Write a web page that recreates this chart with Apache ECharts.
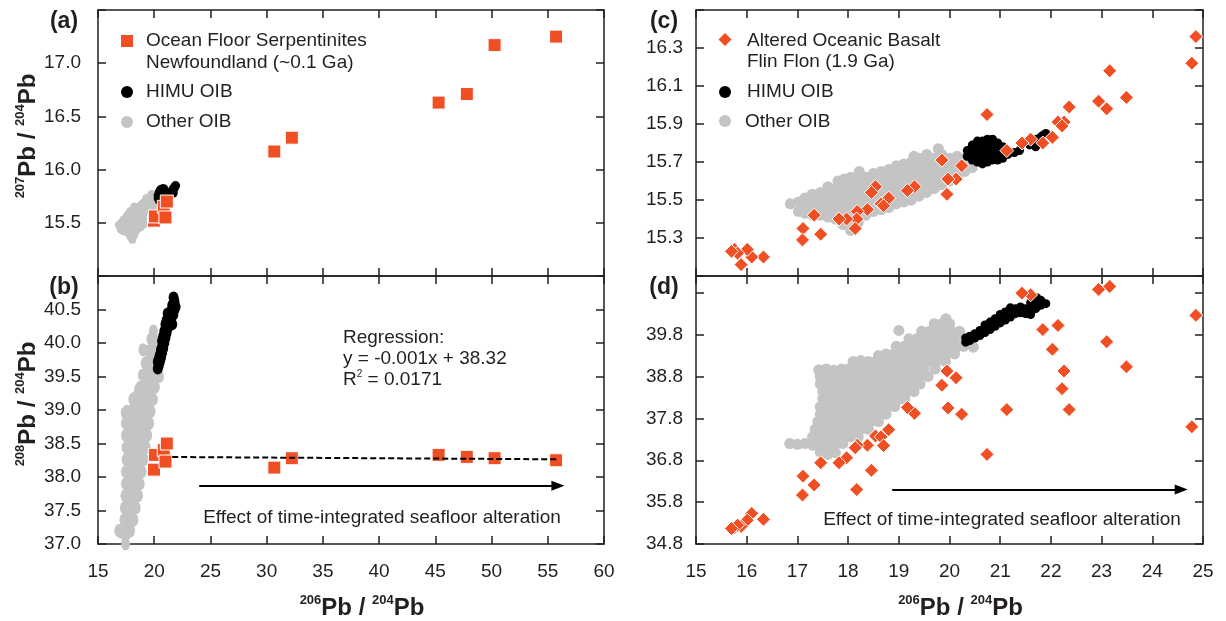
<!DOCTYPE html>
<html><head><meta charset="utf-8">
<script src="https://cdn.jsdelivr.net/npm/echarts@6/dist/echarts.min.js"></script>
<style>html,body{margin:0;padding:0;background:#fff}#c{width:1226px;height:621px}</style>
</head><body><div id="c"></div>
<script>
// ---------- DATA ----------
// Ocean floor serpentinites, Newfoundland (~0.1 Ga)
const serpX   = [19.98, 20.06, 20.85, 21.00, 21.12, 30.68, 32.24, 45.29, 47.80, 50.27, 55.74];
const serp207 = [15.52, 15.56, 15.65, 15.55, 15.70, 16.17, 16.30, 16.63, 16.71, 17.17, 17.25];
const serp208 = [38.11, 38.33, 38.40, 38.23, 38.50, 38.14, 38.28, 38.33, 38.30, 38.28, 38.25];

// Altered oceanic basalt, Flin Flon (1.9 Ga)
const flinX   = [24.86, 24.78, 23.16, 23.49, 22.94, 23.10, 22.36, 22.26, 22.14, 22.22, 20.74, 22.03, 21.84, 21.60, 21.43, 21.13, 20.24, 19.85, 20.13, 19.97, 19.95, 19.31, 19.17, 18.54, 18.46, 18.80, 18.65, 18.70, 18.38, 18.18, 18.17, 17.97, 17.82, 18.14, 17.33, 17.46, 17.11, 17.10, 16.33, 16.10, 16.01, 15.89, 15.76, 15.82, 15.70];
const flin207 = [16.36, 16.22, 16.18, 16.04, 16.02, 15.98, 15.99, 15.91, 15.91, 15.89, 15.95, 15.83, 15.80, 15.82, 15.80, 15.76, 15.68, 15.71, 15.61, 15.61, 15.53, 15.57, 15.55, 15.57, 15.54, 15.51, 15.48, 15.47, 15.45, 15.44, 15.40, 15.40, 15.40, 15.35, 15.42, 15.32, 15.35, 15.29, 15.20, 15.20, 15.24, 15.16, 15.24, 15.22, 15.23];
const flin208 = [40.26, 37.60, 40.95, 39.03, 40.88, 39.63, 38.01, 38.93, 40.02, 38.51, 36.94, 39.45, 39.92, 40.75, 40.79, 38.01, 37.90, 38.59, 38.77, 38.05, 38.93, 37.92, 38.06, 37.38, 36.56, 37.53, 37.36, 37.15, 37.16, 37.16, 36.10, 36.86, 36.74, 37.10, 36.21, 36.74, 36.42, 35.97, 35.39, 35.53, 35.37, 35.22, 35.20, 35.25, 35.17];

// HIMU OIB  [206Pb/204Pb, 207Pb/204Pb]
const himu207 = [
[20.35,15.73],[20.35,15.76],
[20.45,15.71],[20.45,15.74],[20.45,15.77],[20.45,15.79],
[20.55,15.70],[20.55,15.73],[20.55,15.76],[20.55,15.79],[20.55,15.81],
[20.65,15.69],[20.65,15.72],[20.65,15.75],[20.65,15.78],[20.65,15.81],
[20.75,15.70],[20.75,15.73],[20.75,15.76],[20.75,15.79],[20.75,15.82],
[20.85,15.71],[20.85,15.74],[20.85,15.77],[20.85,15.80],[20.85,15.82],
[20.95,15.71],[20.95,15.74],[20.95,15.77],[20.95,15.80],
[21.05,15.72],[21.05,15.75],[21.05,15.78],
[21.15,15.74],[21.15,15.76],[21.28,15.75],[21.38,15.76],
[21.58,15.79],[21.62,15.81],[21.70,15.78],[21.72,15.82],[21.80,15.83],[21.84,15.84],[21.90,15.85]
];
// HIMU OIB  [206Pb/204Pb, 208Pb/204Pb]
const himu208 = [
[20.32,39.62],[20.32,39.72],[20.40,39.66],[20.40,39.76],[20.50,39.72],[20.50,39.82],[20.60,39.78],[20.60,39.90],
[20.70,39.85],[20.70,39.95],[20.70,40.03],[20.80,39.92],[20.80,40.02],[20.80,40.10],[20.90,40.00],[20.90,40.10],[20.90,40.18],
[21.00,40.08],[21.00,40.18],[21.00,40.28],[21.10,40.15],[21.10,40.25],[21.10,40.34],[21.20,40.22],[21.20,40.34],[21.20,40.44],
[21.30,40.30],[21.30,40.42],[21.40,40.32],[21.40,40.46],[21.50,40.30],[21.50,40.42],[21.60,40.28],[21.60,40.44],[21.60,40.56],
[21.70,40.42],[21.70,40.56],[21.72,40.68],[21.80,40.50],[21.80,40.62],[21.90,40.54]
];

// Other OIB  [206Pb/204Pb, 207Pb/204Pb]
const oib207 = [
[16.86,15.48],
[17.02,15.44],[17.02,15.49],
[17.15,15.43],[17.15,15.47],[17.15,15.51],
[17.30,15.42],[17.30,15.46],[17.30,15.50],[17.29,15.53],
[17.45,15.42],[17.45,15.46],[17.45,15.50],[17.45,15.54],
[17.60,15.41],[17.60,15.45],[17.60,15.49],[17.60,15.53],[17.60,15.57],
[17.75,15.40],[17.75,15.44],[17.75,15.48],[17.75,15.52],[17.75,15.56],[17.80,15.60],
[17.90,15.37],[17.90,15.41],[17.90,15.45],[17.90,15.49],[17.90,15.53],[17.90,15.57],[17.92,15.61],
[18.05,15.34],[18.05,15.38],[18.05,15.42],[18.05,15.46],[18.05,15.50],[18.05,15.54],[18.05,15.58],[18.05,15.62],
[18.20,15.38],[18.20,15.42],[18.20,15.46],[18.20,15.50],[18.20,15.54],[18.20,15.58],[18.20,15.62],[18.22,15.65],
[18.35,15.42],[18.35,15.46],[18.35,15.50],[18.35,15.54],[18.35,15.58],[18.35,15.62],
[18.50,15.44],[18.50,15.48],[18.50,15.52],[18.50,15.56],[18.50,15.60],[18.50,15.64],
[18.65,15.45],[18.65,15.49],[18.65,15.53],[18.65,15.57],[18.65,15.61],[18.65,15.65],
[18.80,15.46],[18.80,15.50],[18.80,15.54],[18.80,15.58],[18.80,15.62],[18.80,15.66],
[18.95,15.48],[18.95,15.52],[18.95,15.56],[18.95,15.60],[18.95,15.64],[18.95,15.68],
[19.10,15.49],[19.10,15.53],[19.10,15.57],[19.10,15.61],[19.10,15.65],[19.10,15.69],
[19.25,15.50],[19.25,15.54],[19.25,15.58],[19.25,15.62],[19.25,15.66],[19.25,15.70],[19.30,15.73],
[19.40,15.52],[19.40,15.56],[19.40,15.60],[19.40,15.64],[19.40,15.68],[19.40,15.72],
[19.55,15.54],[19.55,15.58],[19.55,15.62],[19.55,15.66],[19.55,15.70],[19.55,15.74],
[19.70,15.56],[19.70,15.60],[19.70,15.64],[19.70,15.68],[19.70,15.72],[19.78,15.77],
[19.85,15.58],[19.85,15.62],[19.85,15.66],[19.85,15.70],[19.85,15.74],
[20.00,15.60],[20.00,15.64],[20.00,15.68],[20.00,15.72],
[20.15,15.62],[20.15,15.66],[20.15,15.70],[20.15,15.73],
[20.30,15.65],[20.30,15.69],[20.30,15.72],
[20.45,15.67],[20.50,15.71]
];
// Other OIB  [206Pb/204Pb, 208Pb/204Pb]
const oib208 = [
[17.45,37.00],[17.60,36.94],[17.75,36.98],
[16.85,37.20],[17.00,37.18],[17.15,37.20],[17.30,37.16],[17.45,37.18],[17.60,37.16],[17.75,37.18],[17.90,37.20],
[17.30,37.36],[17.45,37.36],[17.60,37.36],[17.75,37.36],[17.90,37.36],[18.05,37.36],[18.20,37.36],
[17.35,37.54],[17.50,37.54],[17.65,37.54],[17.80,37.54],[17.95,37.54],[18.10,37.54],[18.25,37.54],[18.40,37.54],
[17.40,37.72],[17.55,37.72],[17.70,37.72],[17.85,37.72],[18.00,37.72],[18.15,37.72],[18.30,37.72],[18.45,37.72],[18.60,37.72],
[17.45,37.90],[17.60,37.90],[17.75,37.90],[17.90,37.90],[18.05,37.90],[18.20,37.90],[18.35,37.90],[18.50,37.90],[18.65,37.90],[18.75,37.90],
[17.45,38.08],[17.60,38.08],[17.75,38.08],[17.90,38.08],[18.05,38.08],[18.20,38.08],[18.35,38.08],[18.50,38.08],[18.65,38.08],[18.80,38.08],[18.92,38.08],
[17.50,38.26],[17.65,38.26],[17.80,38.26],[17.95,38.26],[18.10,38.26],[18.25,38.26],[18.40,38.26],[18.55,38.26],[18.70,38.26],[18.85,38.26],[19.00,38.26],[19.12,38.26],
[17.50,38.44],[17.65,38.44],[17.80,38.44],[17.95,38.44],[18.10,38.44],[18.25,38.44],[18.40,38.44],[18.55,38.44],[18.70,38.44],[18.85,38.44],[19.00,38.44],[19.15,38.44],[19.30,38.44],
[17.45,38.62],[17.60,38.62],[17.75,38.62],[17.90,38.62],[18.05,38.62],[18.20,38.62],[18.35,38.62],[18.50,38.62],[18.65,38.62],[18.80,38.62],[18.95,38.62],[19.10,38.62],[19.25,38.62],[19.42,38.62],
[17.45,38.80],[17.60,38.80],[17.75,38.80],[17.90,38.80],[18.05,38.80],[18.20,38.80],[18.35,38.80],[18.50,38.80],[18.65,38.80],[18.80,38.80],[18.95,38.80],[19.10,38.80],[19.25,38.80],[19.40,38.80],[19.58,38.80],
[17.42,38.96],[17.57,38.98],[17.72,38.95],[17.87,38.98],[18.00,38.98],[18.15,38.98],[18.30,38.98],[18.45,38.98],[18.60,38.98],[18.75,38.98],[18.90,38.98],[19.05,38.98],[19.20,38.98],[19.35,38.98],[19.50,38.98],[19.72,38.98],
[18.10,39.16],[18.25,39.18],[18.40,39.16],[18.55,39.16],[18.70,39.16],[18.85,39.16],[19.00,39.16],[19.15,39.16],[19.30,39.16],[19.45,39.16],[19.60,39.16],[19.75,39.16],[19.92,39.16],
[18.60,39.30],[18.75,39.34],[18.90,39.34],[19.05,39.34],[19.20,39.34],[19.35,39.34],[19.50,39.34],[19.65,39.34],[19.80,39.34],[19.95,39.34],[20.10,39.34],
[18.95,39.52],[19.10,39.52],[19.25,39.52],[19.40,39.52],[19.55,39.52],[19.70,39.52],[19.85,39.52],[20.00,39.52],[20.15,39.52],[20.28,39.52],[20.47,39.50],
[19.20,39.70],[19.35,39.70],[19.50,39.70],[19.65,39.70],[19.80,39.70],[19.95,39.70],[20.10,39.70],[20.30,39.70],
[19.00,39.90],[19.45,39.88],[19.60,39.88],[19.75,39.88],[19.90,39.88],[20.05,39.88],[20.20,39.88],
[19.70,40.06],[19.85,40.06],[20.00,40.06],
[19.93,40.18]
];

// Regression shown in panel (b)
const regSlope = -0.001, regIntercept = 38.32, regFrom = 21.6, regTo = 55.8;

// Tick labels
const labA  = [15.5, 16.0, 16.5, 17.0];
const labB  = [37.0, 37.5, 38.0, 38.5, 39.0, 39.5, 40.0, 40.5];
const labC  = [15.3, 15.5, 15.7, 15.9, 16.1, 16.3];
const labD  = [34.8, 35.8, 36.8, 37.8, 38.8, 39.8];
const labXL = [15, 20, 25, 30, 35, 40, 45, 50, 55, 60];
const labXR = [15, 16, 17, 18, 19, 20, 21, 22, 23, 24, 25];

// ---------- STYLE ----------
const FONT = '"Liberation Sans", Arial, sans-serif';
const INK = '#231f20';
const ORANGE = '#F04E23';
const GRAY = '#C4C4C4';
const BLACK = '#000000';

function inList(list, v){ return list.some(t => Math.abs(t - v) < 1e-6); }
function fmtY(list){ return v => inList(list, v) ? v.toFixed(1) : ''; }
function fmtX(list){ return v => inList(list, v) ? String(Math.round(v)) : ''; }

const axisLineStyle = {color: INK, width: 1.5};
function xAx(gi, min, max, interval, labels, top){
  return {
    type: 'value', gridIndex: gi, position: top ? 'top' : 'bottom', min, max, interval,
    axisLine: {show: true, onZero: false, lineStyle: axisLineStyle},
    axisTick: {show: true, inside: true, length: 8, lineStyle: axisLineStyle},
    axisLabel: {show: !!labels, margin: 18, fontSize: 19, fontFamily: FONT, color: INK,
                formatter: labels ? fmtX(labels) : undefined},
    splitLine: {show: false}
  };
}
function yAx(gi, min, max, interval, labels, right, margin){
  return {
    type: 'value', gridIndex: gi, position: right ? 'right' : 'left', min, max, interval,
    axisLine: {show: true, onZero: false, lineStyle: axisLineStyle},
    axisTick: {show: true, inside: true, length: 8, lineStyle: axisLineStyle},
    axisLabel: {show: !!labels, margin: margin, fontSize: 19, fontFamily: FONT, color: INK,
                formatter: labels ? fmtY(labels) : undefined},
    splitLine: {show: false}
  };
}
const titleRich = {
  s: {fontSize: 13, fontWeight: 'bold', fontFamily: FONT, color: INK, verticalAlign: 'top', lineHeight: 14},
  b: {fontSize: 24, fontWeight: 'bold', fontFamily: FONT, color: INK, lineHeight: 28}
};
function pbName(num){ return '{s|' + num + '}{b|Pb / }{s|204}{b|Pb}'; }

const xAxes = [
  xAx(0, 15, 60, 5, null, false), xAx(0, 15, 60, 5, null, true),
  Object.assign(xAx(1, 15, 60, 5, labXL, false), {name: pbName(206), nameLocation: 'middle', nameGap: 50,
      nameTextStyle: {rich: titleRich, padding: [0, 0, 0, 22]}}),
  xAx(1, 15, 60, 5, null, true),
  xAx(2, 15, 25, 1, null, false), xAx(2, 15, 25, 1, null, true),
  Object.assign(xAx(3, 15, 25, 1, labXR, false), {name: pbName(206), nameLocation: 'middle', nameGap: 50,
      nameTextStyle: {rich: titleRich, padding: [0, 0, 0, 22]}}),
  xAx(3, 15, 25, 1, null, true)
];
const yAxes = [
  Object.assign(yAx(0, 15.0, 17.5, 0.5, labA, false, 17), {name: pbName(207), nameLocation: 'middle', nameRotate: 90, nameGap: 55,
      nameTextStyle: {rich: titleRich, padding: [0, 0, 0, 14]}}),
  yAx(0, 15.0, 17.5, 0.5, null, true),
  Object.assign(yAx(1, 37.0, 41.0, 0.5, labB, false, 17), {name: pbName(208), nameLocation: 'middle', nameRotate: 90, nameGap: 55,
      nameTextStyle: {rich: titleRich, padding: [0, 0, 0, 12]}}),
  yAx(1, 37.0, 41.0, 0.5, null, true),
  yAx(2, 15.1, 16.5, 0.2, labC, false, 13), yAx(2, 15.1, 16.5, 0.2, null, true),
  yAx(3, 34.8, 41.2, 1.0, labD, false, 13), yAx(3, 34.8, 41.2, 1.0, null, true)
];

function pts(xs, ys){ return xs.map((x, i) => [x, ys[i]]); }
function sc(name, ai, data, symbol, size, color, border){
  return {
    name, type: 'scatter', xAxisIndex: ai, yAxisIndex: ai, data, symbol, symbolSize: size,
    itemStyle: border ? {color, borderColor: '#ffffff', borderWidth: 1, opacity: 1} : {color, opacity: 1},
    emphasis: {disabled: true}, silent: true
  };
}
function arrow(ai, from, to){
  return {
    type: 'scatter', xAxisIndex: ai, yAxisIndex: ai, data: [], silent: true,
    markLine: {
      silent: true, animation: false, symbol: ['none', 'triangle'], symbolSize: [10, 13],
      lineStyle: {color: '#000', width: 2, type: 'solid'}, label: {show: false},
      emphasis: {disabled: true},
      data: [[{coord: from}, {coord: to}]]
    }
  };
}

const series = [
  // (a)
  sc('Other OIB', 0, oib207, 'circle', 8, GRAY, false),
  sc('HIMU OIB', 0, himu207, 'circle', 9, BLACK, false),
  sc('Ocean Floor Serpentinites', 0, pts(serpX, serp207), 'rect', 13, ORANGE, true),
  // (b)
  sc('Other OIB', 2, oib208, 'circle', [9, 13], GRAY, false),
  sc('HIMU OIB', 2, himu208, 'circle', [10, 12], BLACK, false),
  Object.assign(sc('Ocean Floor Serpentinites', 2, pts(serpX, serp208), 'rect', 13, ORANGE, true), {
    markLine: {
      silent: true, animation: false, symbol: ['none', 'none'],
      lineStyle: {color: '#000', width: 2, type: [6, 3]}, label: {show: false},
      emphasis: {disabled: true},
      data: [[{coord: [regFrom, regSlope * regFrom + regIntercept]}, {coord: [regTo, regSlope * regTo + regIntercept]}]]
    }
  }),
  arrow(2, [24.0, 37.87], [55.9, 37.87]),
  // (c)
  sc('Other OIB', 4, oib207, 'circle', 11, GRAY, false),
  sc('HIMU OIB', 4, himu207, 'circle', 9, BLACK, false),
  sc('Altered Oceanic Basalt', 4, pts(flinX, flin207), 'diamond', 14, ORANGE, true),
  // (d)
  sc('Other OIB', 6, oib208, 'circle', 11, GRAY, false),
  sc('HIMU OIB', 6, himu208, 'circle', 9, BLACK, false),
  sc('Altered Oceanic Basalt', 6, pts(flinX, flin208), 'diamond', 14, ORANGE, true),
  arrow(6, [18.87, 36.10], [24.57, 36.10])
];

function txt(x, y, text, opts){
  opts = opts || {};
  return {type: 'text', x, y, silent: true, z: 100, style: Object.assign({
    text, fontSize: opts.size || 19, fontWeight: opts.weight || 'normal', fontFamily: FONT, fill: INK,
    textAlign: opts.align || 'left', align: opts.align || 'left',
    textVerticalAlign: 'middle', verticalAlign: 'middle'
  }, opts.extra || {})};
}
const graphic = [
  txt(64, 22, '(a)', {size: 23, weight: 'bold', align: 'center'}),
  txt(64, 288, '(b)', {size: 23, weight: 'bold', align: 'center'}),
  txt(664, 22, '(c)', {size: 23, weight: 'bold', align: 'center'}),
  txt(664, 288, '(d)', {size: 23, weight: 'bold', align: 'center'}),
  // legend (a)
  {type: 'rect', shape: {x: 121, y: 35, width: 12, height: 12}, style: {fill: ORANGE}, z: 100, silent: true},
  txt(146, 41, 'Ocean Floor Serpentinites'),
  txt(146, 63, 'Newfoundland (~0.1 Ga)'),
  {type: 'circle', shape: {cx: 127, cy: 92, r: 6}, style: {fill: BLACK}, z: 100, silent: true},
  txt(146, 92, 'HIMU OIB'),
  {type: 'circle', shape: {cx: 127, cy: 122, r: 6}, style: {fill: GRAY}, z: 100, silent: true},
  txt(146, 122, 'Other OIB'),
  // legend (c)
  {type: 'polygon', shape: {points: [[725, 33], [731.5, 39.5], [725, 46], [718.5, 39.5]]}, style: {fill: ORANGE}, z: 100, silent: true},
  txt(747, 41, 'Altered Oceanic Basalt'),
  txt(747, 62, 'Flin Flon (1.9 Ga)'),
  {type: 'circle', shape: {cx: 725, cy: 92, r: 6}, style: {fill: BLACK}, z: 100, silent: true},
  txt(747, 92, 'HIMU OIB'),
  {type: 'circle', shape: {cx: 725, cy: 121, r: 6}, style: {fill: GRAY}, z: 100, silent: true},
  txt(745, 122, 'Other OIB'),
  // regression annotation (b)
  txt(343, 338, 'Regression:'),
  txt(343, 359, 'y = -0.001x + 38.32'),
  txt(343, 380, '{a|R}{s|2}{a| = 0.0171}', {extra: {rich: {
    a: {fontSize: 19, fontFamily: FONT, fill: INK, color: INK, lineHeight: 22},
    s: {fontSize: 10, fontFamily: FONT, fill: INK, color: INK, verticalAlign: 'top', lineHeight: 12}
  }}}),
  txt(382, 518, 'Effect of time-integrated seafloor alteration', {align: 'center'}),
  txt(1002, 520, 'Effect of time-integrated seafloor alteration', {align: 'center'})
];

const chart = echarts.init(document.getElementById('c'), null, {renderer: 'canvas'});
chart.setOption({
  animation: false,
  backgroundColor: '#ffffff',
  textStyle: {fontFamily: FONT},
  grid: [
    {left: 98, top: 10, width: 506, height: 266},
    {left: 98, top: 276, width: 506, height: 268},
    {left: 696, top: 10, width: 507, height: 266},
    {left: 696, top: 276, width: 507, height: 268}
  ],
  xAxis: xAxes,
  yAxis: yAxes,
  series,
  graphic
});
</script>
</body></html>
